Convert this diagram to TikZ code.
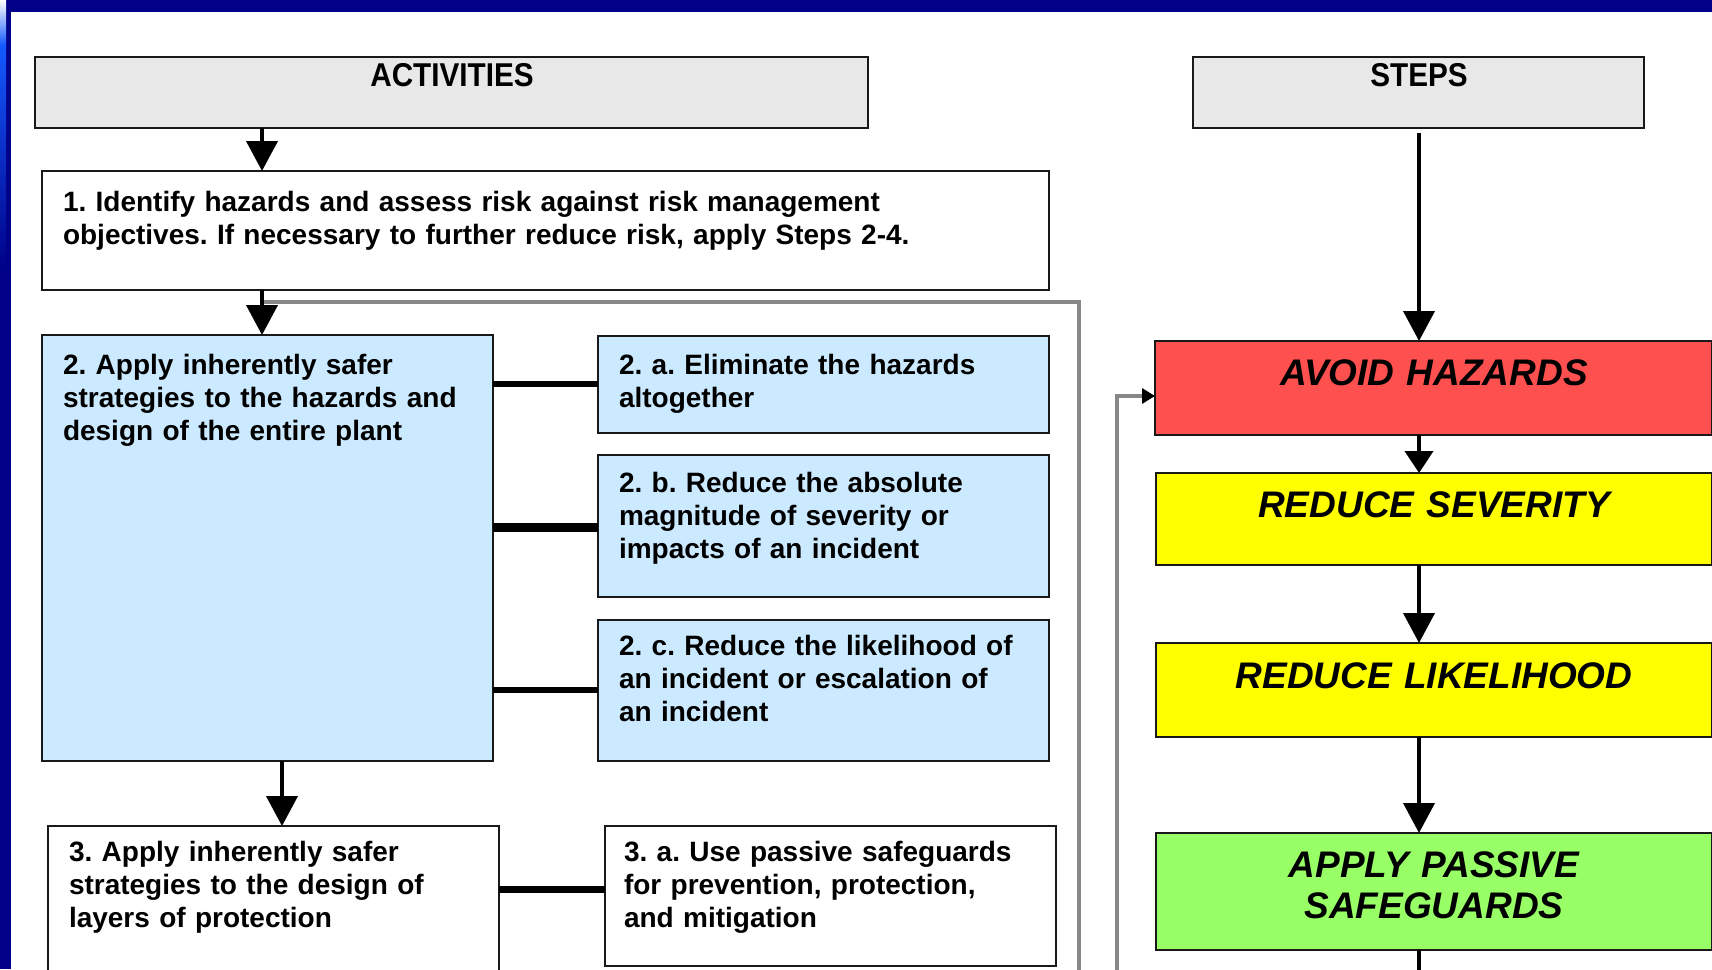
\documentclass[tikz,border=0pt]{standalone}
\usepackage{fontspec}
\setmainfont{Liberation Sans}
\newfontfamily\hdfont{Liberation Sans}[FakeStretch=0.9]
\usetikzlibrary{arrows.meta}
\frenchspacing

\definecolor{framenavy}{RGB}{0,0,136}
\definecolor{framelight}{RGB}{20,90,255}
\definecolor{hdgray}{RGB}{232,232,232}
\definecolor{paleblue}{RGB}{204,234,255}
\definecolor{stepred}{RGB}{255,80,80}
\definecolor{stepyellow}{RGB}{255,255,0}
\definecolor{stepgreen}{RGB}{153,255,102}
\definecolor{fbgray}{RGB}{135,135,135}
\definecolor{edgeblack}{RGB}{25,25,25}

\begin{document}
\begin{tikzpicture}[x=1pt,y=-1pt,
  box/.style={draw=edgeblack, line width=2.2pt, inner sep=0pt, outer sep=0pt, anchor=north west},
  stepbox/.style={box, line width=2.5pt},
  body/.style={anchor=base west, inner sep=0pt, outer sep=0pt, align=left,
    font=\fontsize{28}{33}\selectfont\bfseries},
  head/.style={anchor=base, inner sep=0pt, font=\hdfont\fontsize{33}{36}\selectfont\bfseries},
  steplabel/.style={anchor=base, inner sep=0pt, align=center, text width=540pt,
    font=\fontsize{37}{41}\selectfont\bfseries\itshape},
  bigarrow/.style={line width=4pt, -{Triangle[length=30pt,width=31pt]}},
  smallarrow/.style={line width=4pt, -{Triangle[length=22pt,width=28pt]}},
  link/.style={line width=#1},
  fbline/.style={draw=fbgray, line width=3.5pt}
]
\useasboundingbox (0,0) rectangle (1712,969);
\clip (0,0) rectangle (1712,969);

% slide background and frame
\fill[white] (0,0) rectangle (1712,969);
\fill[framenavy] (0,0) rectangle (1712,12);
\fill[framenavy] (0,0) rectangle (11,969);
\shade[top color=white, bottom color=framelight] (0,0) rectangle (6,45);
\shade[top color=framelight, bottom color=framenavy] (0,45) rectangle (6,270);

% column headers
\node[box, fill=hdgray, minimum width=833pt, minimum height=71pt] (act) at (35,57) {};
\node[head] (actT) at (452,86) {ACTIVITIES};
\node[box, fill=hdgray, minimum width=451pt, minimum height=71pt] (stp) at (1193,57) {};
\node[head] (stpT) at (1419,86) {STEPS};

% activities column
\node[box, minimum width=1007pt, minimum height=119pt] (b1) at (42,171) {};
\node[body, text width=980pt] (b1T) at (63,211)
  {1. Identify hazards and assess risk against risk management\\objectives. If necessary to further reduce risk, apply Steps 2-4.};

\node[box, fill=paleblue, minimum width=451pt, minimum height=426pt] (b2) at (42,335) {};
\node[body, text width=420pt] (b2T) at (63,374)
  {2. Apply inherently safer\\strategies to the hazards and\\design of the entire plant};

\node[box, fill=paleblue, minimum width=451pt, minimum height=97pt] (b2a) at (598,336) {};
\node[body, text width=420pt] (b2aT) at (619,374)
  {2. a. Eliminate the hazards\\altogether};

\node[box, fill=paleblue, minimum width=451pt, minimum height=142pt] (b2b) at (598,455) {};
\node[body, text width=420pt] (b2bT) at (619,492)
  {2. b. Reduce the absolute\\magnitude of severity or\\impacts of an incident};

\node[box, fill=paleblue, minimum width=451pt, minimum height=141pt] (b2c) at (598,620) {};
\node[body, text width=420pt] (b2cT) at (619,655)
  {2. c. Reduce the likelihood of\\an incident or escalation of\\an incident};

\node[box, minimum width=451pt, minimum height=200pt] (b3) at (48,826) {};
\node[body, text width=420pt] (b3T) at (69,861)
  {3. Apply inherently safer\\strategies to the design of\\layers of protection};

\node[box, minimum width=451pt, minimum height=140pt] (b3a) at (605,826) {};
\node[body, text width=420pt] (b3aT) at (624,861)
  {3. a. Use passive safeguards\\for prevention, protection,\\and mitigation};

% steps column
\node[stepbox, fill=stepred, minimum width=557pt, minimum height=94pt] (s1) at (1155,341) {};
\node[steplabel] (s1T) at (1434,385) {AVOID HAZARDS};
\node[stepbox, fill=stepyellow, minimum width=556pt, minimum height=92pt] (s2) at (1156,473) {};
\node[steplabel] (s2T) at (1434,517) {REDUCE SEVERITY};
\node[stepbox, fill=stepyellow, minimum width=556pt, minimum height=94pt] (s3) at (1156,643) {};
\node[steplabel] (s3T) at (1434,688) {REDUCE LIKELIHOOD};
\node[stepbox, fill=stepgreen, minimum width=556pt, minimum height=117pt] (s4) at (1156,833) {};
\node[steplabel] (s4T) at (1434,877) {APPLY PASSIVE\\SAFEGUARDS};

% loose ends of the lines leaving the page
\coordinate (fbOut) at (264,302);
\coordinate (fbDown) at (1079,980);
\coordinate (fbUp) at (1117,980);
\coordinate (s4Down) at (1419,980);

% feedback loop (grey)
\draw[fbline] (fbOut) -| (fbDown);
\draw[fbline, -{Triangle[length=13pt,width=15pt,color=black]}] (fbUp) |- ([yshift=-8pt]s1.west);

% activity arrows
\draw[bigarrow] (act.south -| 262,0) -- (b1.north -| 262,0);
\draw[bigarrow] (b1.south -| 262,0) -- (b2.north -| 262,0);
\draw[bigarrow] (b2.south -| 282,0) -- (b3.north -| 282,0);

% links to the sub-strategies
\draw[link=6pt] (b2.east |- 0,384) -- (b2a.west |- 0,384);
\draw[link=9pt] (b2.east |- 0,527) -- (b2b.west |- 0,527);
\draw[link=6pt] (b2.east |- 0,690) -- (b2c.west |- 0,690);
\draw[link=7pt] (b3.east |- 0,889) -- (b3a.west |- 0,889);

% step arrows
\draw[bigarrow, shorten <=5pt] (stp.south -| 1419,0) -- (s1.north -| 1419,0);
\draw[smallarrow] (s1.south -| 1419,0) -- (s2.north -| 1419,0);
\draw[bigarrow] (s2.south -| 1419,0) -- (s3.north -| 1419,0);
\draw[bigarrow] (s3.south -| 1419,0) -- (s4.north -| 1419,0);
\draw[line width=4pt] (s4.south -| 1419,0) -- (s4Down);
\end{tikzpicture}
\end{document}
